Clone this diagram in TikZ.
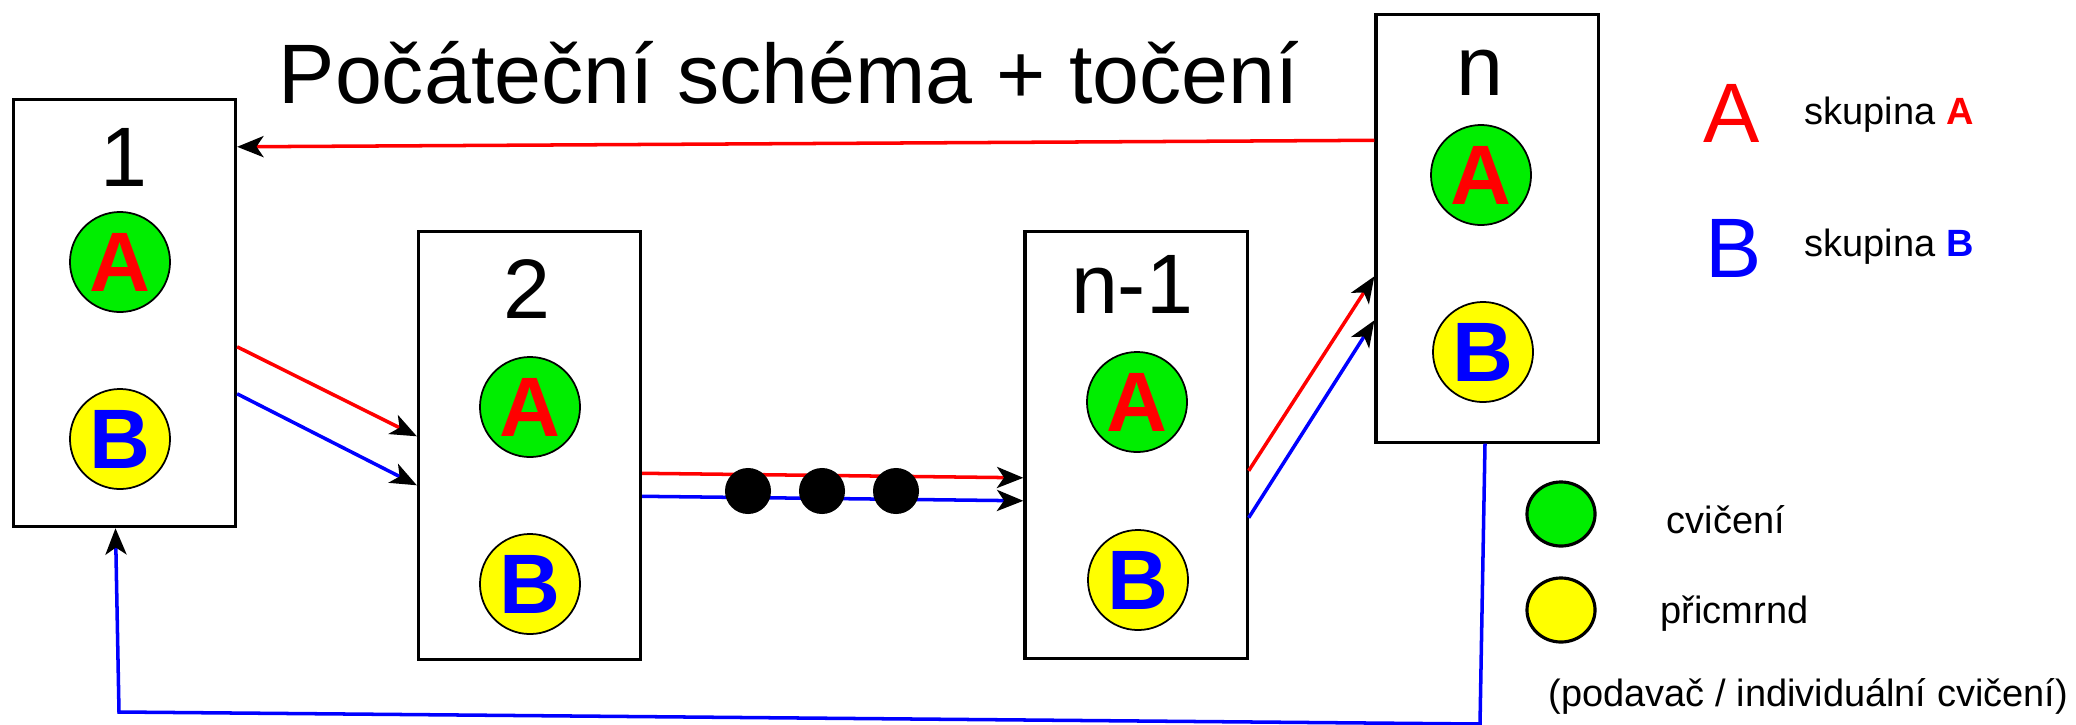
\documentclass[tikz,border=0pt]{standalone}
\usepackage{fontspec}
\setmainfont{Liberation Sans}
\usepackage{xcolor}
\usepackage{tikz}
\usetikzlibrary{arrows.meta, calc, shapes.geometric}
\definecolor{zelena}{RGB}{0,238,0}
\definecolor{zluta}{RGB}{255,255,0}

\tikzset{
  stanoviste/.style={draw, line width=0.9pt, minimum width=2.22cm, minimum height=4.27cm, inner sep=0pt},
  cislo/.style={font=\fontsize{24}{24}\selectfont, anchor=base, inner sep=0pt},
  skupA/.style={circle, draw, line width=0.5pt, fill=zelena, minimum size=1cm, inner sep=0pt, text=red, font=\fontsize{24}{24}\selectfont\bfseries},
  skupB/.style={circle, draw, line width=0.5pt, fill=zluta, minimum size=1cm, inner sep=0pt, text=blue, font=\fontsize{24}{24}\selectfont\bfseries},
  tecka/.style={circle, fill=black, minimum size=0.46cm, inner sep=0pt},
  sipka/.style={line width=1pt, -{Stealth[length=7.5pt, width=6pt, inset=2pt, black]}},
  popis/.style={anchor=base west, inner sep=0pt, font=\fontsize{10.8}{12}\selectfont},
  kolecko/.style={ellipse, draw, line width=0.9pt, minimum width=0.68cm, minimum height=0.64cm, inner sep=0pt}
}

\begin{document}
\begin{tikzpicture}[x=0.01cm, y=-0.01cm]
    \useasboundingbox (0,0) rectangle (2076,724);

    % title
    \node[anchor=base west, inner sep=0pt, font=\fontsize{24}{24}\selectfont] (nadpis) at (278,103) {Počáteční schéma + točení};

    % stations
    \node[stanoviste] (b1) at (124.5,313) {};
    \node[stanoviste] (b2) at (529.5,445.5) {};
    \node[stanoviste] (bn1) at (1136,445) {};
    \node[stanoviste] (bn) at (1487,228.5) {};

    \node[cislo] (c1) at (124,186) {1};
    \node[cislo] (c2) at (527,318) {2};
    \node[cislo] (cn1) at (1132,313) {n-1};
    \node[cislo] (cn) at (1480,95) {n};

    \node[skupA] (a1) at (120,262) {A};
    \node[skupB] (p1) at (120,439) {B};
    \node[skupA] (a2) at (530,407) {A};
    \node[skupB] (p2) at (530,584) {B};
    \node[skupA] (an1) at (1137,402) {A};
    \node[skupB] (pn1) at (1138,580) {B};
    \node[skupA] (an) at (1481,175) {A};
    \node[skupB] (pn) at (1483,352) {B};

    % rotation
    \draw[sipka, red] ($(bn.north west)+(0,127)$) -- ($(b1.north east)+(0,49)$);
    \draw[sipka, red] ($(b1.north east)+(0,249)$) -- ($(b2.north west)+(0,206)$);
    \draw[sipka, blue] ($(b1.north east)+(0,296)$) -- ($(b2.north west)+(0,255)$);
    \draw[sipka, red] ($(b2.north east)+(0,243)$) -- ($(bn1.north west)+(0,248)$);
    \draw[sipka, blue] ($(b2.north east)+(0,266)$) -- ($(bn1.north west)+(0,271)$);
    \draw[sipka, red] ($(bn1.north east)+(0,241)$) -- ($(bn.north west)+(0,263)$);
    \draw[sipka, blue] ($(bn1.north east)+(0,288)$) -- ($(bn.north west)+(0,307)$);

    \coordinate (vpravo) at (1480,724);
    \coordinate (vlevo) at (119,712);
    \draw[sipka, blue] ($(bn.south)+(-2,0)$) -- (vpravo) -- (vlevo) -- ($(b1.south)+(-9,0)$);

    % dots
    \node[tecka] (t1) at (748,491) {};
    \node[tecka] (t2) at (822,491) {};
    \node[tecka] (t3) at (896,491) {};

    % legend
    \node[anchor=base west, inner sep=0pt, text=red, font=\fontsize{24}{24}\selectfont] (legA) at (1703,142) {A};
    \node[anchor=base west, inner sep=0pt, text=blue, font=\fontsize{24}{24}\selectfont] (legB) at (1705,277) {B};
    \node[popis] (skA) at (1804,124) {skupina \textcolor{red}{\bfseries A}};
    \node[popis] (skB) at (1804,256) {skupina \textcolor{blue}{\bfseries B}};

    \node[kolecko, fill=zelena] (kz) at (1561,514) {};
    \node[kolecko, fill=zluta] (kl) at (1561,610) {};
    \node[popis] (tz) at (1666,533) {cvičení};
    \node[popis] (tl) at (1660,623) {přicmrnd};
    \node[popis] (tp) at (1548,706) {(podavač / individuální cvičení)};
\end{tikzpicture}
\end{document}
